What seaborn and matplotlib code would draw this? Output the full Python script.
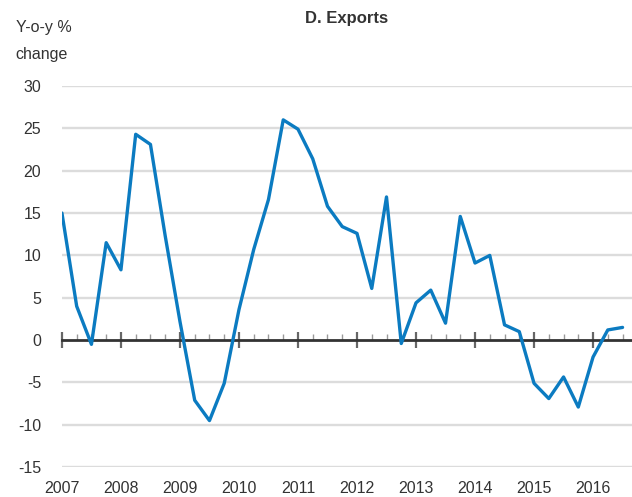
import numpy as np
import pandas as pd
import matplotlib
matplotlib.use("Agg")
import matplotlib.pyplot as plt
import seaborn as sns

# quarterly, 2007Q1 .. 2016Q3
start_year = 2007
exports = [15.0, 4.0, -0.5, 11.5, 8.3, 24.3, 23.1, 12.3, 2.2, -7.1,
           -9.5, -5.1, 3.6, 10.7, 16.6, 26.0, 24.9, 21.4, 15.8, 13.4,
           12.6, 6.1, 16.9, -0.4, 4.4, 5.9, 2.0, 14.6, 9.1, 10.0,
           1.8, 1.0, -5.1, -6.9, -4.35, -7.9, -2.0, 1.2, 1.5]
years = list(range(2007, 2017))
yticks = list(range(-15, 31, 5))

df = pd.DataFrame({
    "t": start_year + np.arange(len(exports)) / 4.0,
    "val": exports,
})

sns.set_theme(style="white")
plt.rcParams["font.family"] = ["Liberation Sans", "DejaVu Sans"]
plt.rcParams["axes.unicode_minus"] = False

fig = plt.figure(figsize=(6.32, 4.97), dpi=100)
ax = fig.add_axes([0.098, 0.060, 0.902, 0.767])

for y in yticks:
    if y != 0:
        ax.axhline(y, color="#dcdcdc", lw=1.7, zorder=0)

sns.lineplot(data=df, x="t", y="val", ax=ax, color="#0b7bc1", lw=2.4,
             zorder=3, legend=False)

ax.set_xlim(2007, 2016.66)
ax.set_ylim(-15, 30)

for s in ["top", "right", "left"]:
    ax.spines[s].set_visible(False)
ax.spines["bottom"].set_position(("data", 0))
ax.spines["bottom"].set_color("#333333")
ax.spines["bottom"].set_linewidth(2)
ax.spines["bottom"].set_zorder(2)

ax.set_xticks(years)
ax.set_xticks(np.arange(2007, 2016.7, 0.25), minor=True)
ax.tick_params(axis="x", which="major", direction="inout", length=11,
               width=1.6, color="#666666", labelbottom=False, bottom=True)
ax.tick_params(axis="x", which="minor", direction="in", length=4,
               width=1, color="#999999", bottom=True)

ax.set_yticks(yticks)
ax.tick_params(axis="y", length=0, pad=15, labelsize=11.5,
               labelcolor="#333333")
ax.set_xlabel("")
ax.set_ylabel("")

sec = ax.secondary_xaxis(location=0)
sec.set_xticks(years)
sec.spines["bottom"].set_visible(False)
sec.tick_params(axis="x", length=0, pad=10, labelsize=11.5,
                labelcolor="#333333")

fig.text(0.548, 0.962, "D. Exports", ha="center", va="center",
         fontsize=12, fontweight="bold", color="#333333")
fig.text(0.025, 0.945, "Y-o-y %", ha="left", va="center",
         fontsize=11.5, color="#333333")
fig.text(0.025, 0.890, "change", ha="left", va="center",
         fontsize=11.5, color="#333333")

fig.savefig("out.png", dpi=100)
